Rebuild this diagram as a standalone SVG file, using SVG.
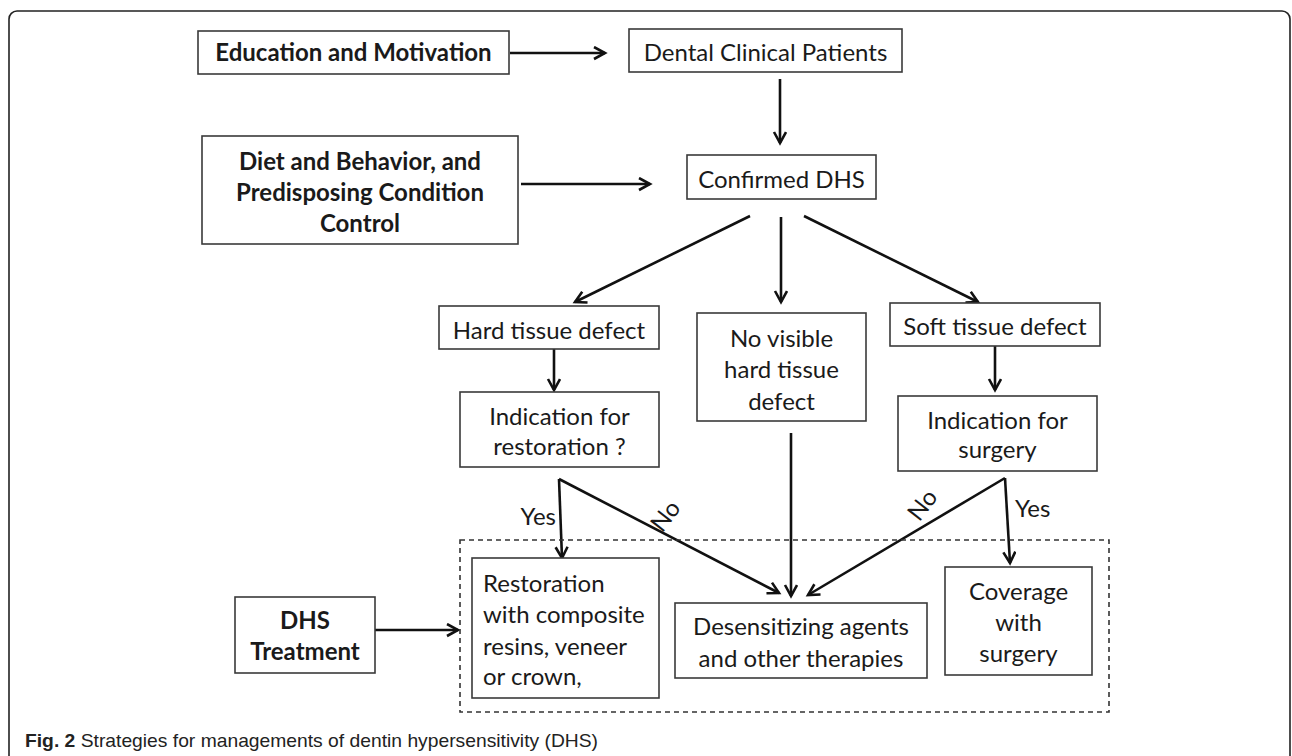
<svg xmlns="http://www.w3.org/2000/svg" width="1292" height="756" viewBox="0 0 1292 756">
  <defs>
    <style>
      .box { fill: #ffffff; stroke: #3a3a3a; stroke-width: 1.6; }
      .t { font-family: Lato, "Liberation Sans", sans-serif; font-size: 24px; fill: #1a1a1a; text-anchor: middle; }
      .b { font-weight: bold; }
      .l { text-anchor: start; }
      .e { text-anchor: end; }
      .c { fill: none; stroke: #111111; stroke-width: 2.6; marker-end: url(#ah); }
      .cap { font-family: "Liberation Sans", Arial, sans-serif; font-size: 19px; fill: #222222; }
    </style>
    <marker id="ah" markerUnits="userSpaceOnUse" markerWidth="20" markerHeight="20" refX="12" refY="7" orient="auto">
      <path d="M1,1 L12,7 L1,13" fill="none" stroke="#111111" stroke-width="2.6" stroke-linejoin="miter"/>
    </marker>
  </defs>
  <rect id="frame" x="9" y="11" width="1281" height="820" rx="8" fill="#ffffff" stroke="#222222" stroke-width="1.6"/>

  <g id="connectors">
    <line class="c" x1="510" y1="53" x2="605" y2="53"/>
    <line class="c" x1="780" y1="79" x2="780" y2="143"/>
    <line class="c" x1="521" y1="184" x2="650" y2="184"/>
    <line class="c" x1="750" y1="216" x2="575" y2="302"/>
    <line class="c" x1="781" y1="217" x2="781" y2="302"/>
    <line class="c" x1="804" y1="216" x2="978" y2="302"/>
    <line class="c" x1="554" y1="349" x2="554" y2="390"/>
    <line class="c" x1="995" y1="346" x2="995" y2="390"/>
    <line class="c" x1="559" y1="479" x2="562" y2="558"/>
    <line class="c" x1="559" y1="479" x2="779" y2="593"/>
    <line class="c" x1="791" y1="433" x2="791" y2="596"/>
    <line class="c" x1="1005" y1="478" x2="808" y2="595"/>
    <line class="c" x1="1005" y1="478" x2="1010" y2="563"/>
    <line class="c" x1="375" y1="630" x2="458" y2="630"/>
    <text class="t e" x="556" y="525">Yes</text>
    <text class="t l" x="1015" y="517">Yes</text>
    <text class="t" x="0" y="0" transform="translate(672,521) rotate(-52)">No</text>
    <text class="t" x="0" y="0" transform="translate(929,510) rotate(-52)">No</text>
  </g>

  <rect id="treatment-group" x="460" y="540" width="649" height="172" fill="none" stroke="#333333" stroke-width="1.6" stroke-dasharray="5,4"/>

  <g id="edu">
    <rect class="box" x="198" y="31" width="311" height="43"/>
    <text class="t b" x="353.5" y="61">Education and Motivation</text>
  </g>
  <g id="dental">
    <rect class="box" x="629" y="29" width="273" height="43"/>
    <text class="t" x="765.5" y="61">Dental Clinical Patients</text>
  </g>
  <g id="diet">
    <rect class="box" x="202" y="136" width="316" height="108"/>
    <text class="t b" x="360" y="170">Diet and Behavior, and</text>
    <text class="t b" x="360" y="201">Predisposing Condition</text>
    <text class="t b" x="360" y="232">Control</text>
  </g>
  <g id="confirmed">
    <rect class="box" x="687" y="155" width="189" height="44"/>
    <text class="t" x="781.5" y="188">Confirmed DHS</text>
  </g>
  <g id="hard">
    <rect class="box" x="439" y="306" width="220" height="43"/>
    <text class="t" x="549" y="339">Hard tissue defect</text>
  </g>
  <g id="novisible">
    <rect class="box" x="697" y="313" width="169" height="108"/>
    <text class="t" x="781.5" y="347">No visible</text>
    <text class="t" x="781.5" y="378">hard tissue</text>
    <text class="t" x="781.5" y="410">defect</text>
  </g>
  <g id="soft">
    <rect class="box" x="890" y="303" width="210" height="43"/>
    <text class="t" x="995" y="335">Soft tissue defect</text>
  </g>
  <g id="ind-restoration">
    <rect class="box" x="460" y="392" width="199" height="75"/>
    <text class="t" x="559.5" y="425">Indication for</text>
    <text class="t" x="559.5" y="455">restoration ?</text>
  </g>
  <g id="ind-surgery">
    <rect class="box" x="898" y="396" width="199" height="75"/>
    <text class="t" x="997.5" y="429">Indication for</text>
    <text class="t" x="997.5" y="458">surgery</text>
  </g>
  <g id="restoration">
    <rect class="box" x="472" y="558" width="187" height="140"/>
    <text class="t l" x="483" y="592">Restoration</text>
    <text class="t l" x="483" y="623">with composite</text>
    <text class="t l" x="483" y="655">resins, veneer</text>
    <text class="t l" x="483" y="685">or crown,</text>
  </g>
  <g id="dhs">
    <rect class="box" x="235" y="597" width="140" height="76"/>
    <text class="t b" x="305" y="629">DHS</text>
    <text class="t b" x="305" y="660">Treatment</text>
  </g>
  <g id="desensitizing">
    <rect class="box" x="675" y="603" width="252" height="75"/>
    <text class="t" x="801" y="635">Desensitizing agents</text>
    <text class="t" x="801" y="667">and other therapies</text>
  </g>
  <g id="coverage">
    <rect class="box" x="945" y="567" width="147" height="108"/>
    <text class="t" x="1018.5" y="600">Coverage</text>
    <text class="t" x="1018.5" y="631">with</text>
    <text class="t" x="1018.5" y="662">surgery</text>
  </g>

  <text class="cap" x="25" y="747" textLength="573" lengthAdjust="spacingAndGlyphs"><tspan font-weight="bold">Fig. 2</tspan> Strategies for managements of dentin hypersensitivity (DHS)</text>
</svg>
